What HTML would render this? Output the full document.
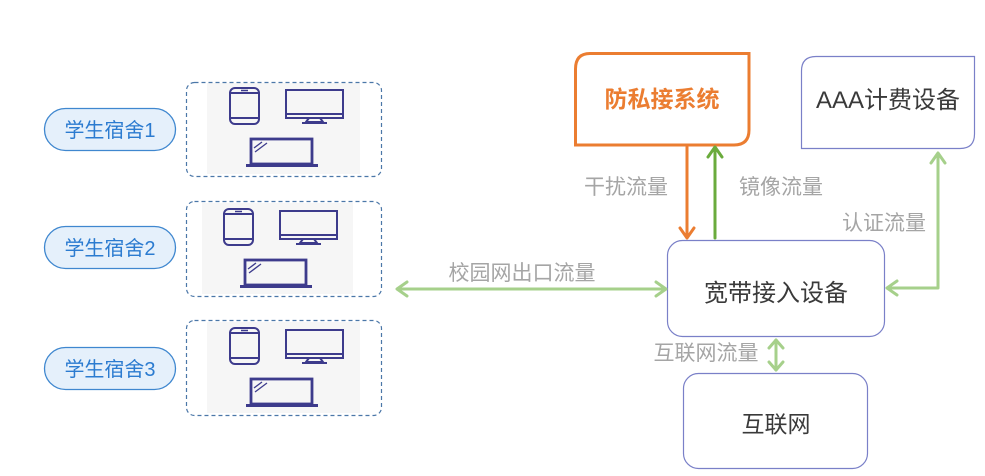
<!DOCTYPE html>
<html><head><meta charset="utf-8"><style>
html,body{margin:0;padding:0;background:#fff;}
svg{display:block;}
text{font-family:"Liberation Sans","Noto Sans CJK SC",sans-serif;}
</style></head><body>
<svg width="985" height="476" viewBox="0 0 985 476" xmlns="http://www.w3.org/2000/svg">
<defs>
<g id="icons" fill="none" stroke="#3d3b8c" stroke-width="2">
  <rect x="230" y="88" width="29" height="36" rx="5"/>
  <line x1="231" y1="93" x2="258" y2="93"/>
  <line x1="231" y1="118" x2="258" y2="118"/>
  <line x1="241" y1="90.5" x2="248" y2="90.5" stroke-width="1.5"/>
  <rect x="286" y="90" width="57" height="28"/>
  <line x1="286" y1="114" x2="343" y2="114"/>
  <path d="M309 118 L306 122 L323 122 L320 118"/>
  <line x1="302" y1="123" x2="327" y2="123" stroke-width="2"/>
  <rect x="251" y="139" width="61" height="25" stroke-width="2.8"/>
  <line x1="246" y1="165.5" x2="318" y2="165.5" stroke-width="3"/>
  <line x1="254" y1="148" x2="262" y2="142" stroke-width="1.3"/>
  <line x1="255" y1="152" x2="267" y2="143" stroke-width="1.3"/>
</g>
</defs>

<!-- Pills -->
<g fill="#e5f0fb" stroke="#3f87cf" stroke-width="1.3">
  <rect x="44.5" y="108.5" width="131" height="42" rx="21"/>
  <rect x="44.5" y="226.5" width="131" height="42" rx="21"/>
  <rect x="44.5" y="347.5" width="131" height="42" rx="21"/>
</g>
<g fill="#2b7bd0" font-size="20" text-anchor="middle">
  <text x="110" y="137">学生宿舍1</text>
  <text x="110" y="255">学生宿舍2</text>
  <text x="110" y="376">学生宿舍3</text>
</g>

<!-- Device boxes -->
<g fill="#f6f6f6">
  <rect x="207" y="83" width="153" height="91"/>
  <rect x="202" y="203" width="151" height="91"/>
  <rect x="207" y="322" width="153" height="91"/>
</g>
<g fill="none" stroke="#4b77a8" stroke-width="1.2" stroke-dasharray="4,3">
  <rect x="186.5" y="82.5" width="195" height="94" rx="8"/>
  <rect x="186.5" y="201.5" width="195" height="95" rx="8"/>
  <rect x="186.5" y="320.5" width="195" height="95" rx="8"/>
</g>
<use href="#icons"/>
<use href="#icons" transform="translate(-6,121)"/>
<use href="#icons" transform="translate(0,240)"/>

<!-- 防私接系统 -->
<path d="M590 53.5 H749 V130 Q749 145 734 145 H575.5 V69 Q575.5 53.5 590 53.5 Z" fill="#fff" stroke="#eb7d31" stroke-width="3"/>
<text x="662" y="107" font-size="23" font-weight="bold" fill="#eb7d31" text-anchor="middle">防私接系统</text>

<!-- AAA -->
<path d="M816 56.5 H974.5 V134 Q974.5 148.5 960 148.5 H801.5 V71 Q801.5 56.5 816 56.5 Z" fill="#fff" stroke="#7a80c8" stroke-width="1.2"/>
<text x="888" y="108" font-size="24" fill="#3a3a3a" text-anchor="middle">AAA计费设备</text>

<!-- 宽带接入设备 -->
<rect x="667.5" y="240.5" width="217" height="96" rx="15" fill="#fff" stroke="#7a80c8" stroke-width="1.2"/>
<text x="776" y="301" font-size="24" fill="#3a3a3a" text-anchor="middle">宽带接入设备</text>

<!-- 互联网 -->
<rect x="683.5" y="373.5" width="184" height="95" rx="15" fill="#fff" stroke="#7a80c8" stroke-width="1.2"/>
<text x="776" y="432" font-size="23" fill="#3a3a3a" text-anchor="middle">互联网</text>

<!-- Arrows -->
<g fill="none" stroke-width="3" stroke-linecap="round" stroke-linejoin="round">
  <g stroke="#eb7d31">
    <line x1="687" y1="147" x2="687" y2="237"/>
    <polyline points="680,228 687,238 694,228"/>
  </g>
  <g stroke="#6aab3c">
    <line x1="715" y1="148" x2="715" y2="238"/>
    <polyline points="708,157 715,147 722,157"/>
  </g>
  <g stroke="#a6d08b">
    <line x1="398" y1="289" x2="664" y2="289"/>
    <polyline points="407,282 397,289 407,296"/>
    <polyline points="656,282 666,289 656,296"/>
    <line x1="776" y1="340" x2="776" y2="370"/>
    <polyline points="769,348 776,340 783,348"/>
    <polyline points="769,362 776,370 783,362"/>
    <polyline points="888,288 938,288 938,154"/>
    <polyline points="897,281 887,288 897,295"/>
    <polyline points="931,163 938,153 945,163"/>
  </g>
</g>

<!-- Labels -->
<g fill="#a5a5a5" font-size="21" text-anchor="middle">
  <text x="626" y="194">干扰流量</text>
  <text x="781" y="194">镜像流量</text>
  <text x="884" y="230">认证流量</text>
  <text x="522" y="280">校园网出口流量</text>
  <text x="706" y="360">互联网流量</text>
</g>
</svg>
</body></html>
